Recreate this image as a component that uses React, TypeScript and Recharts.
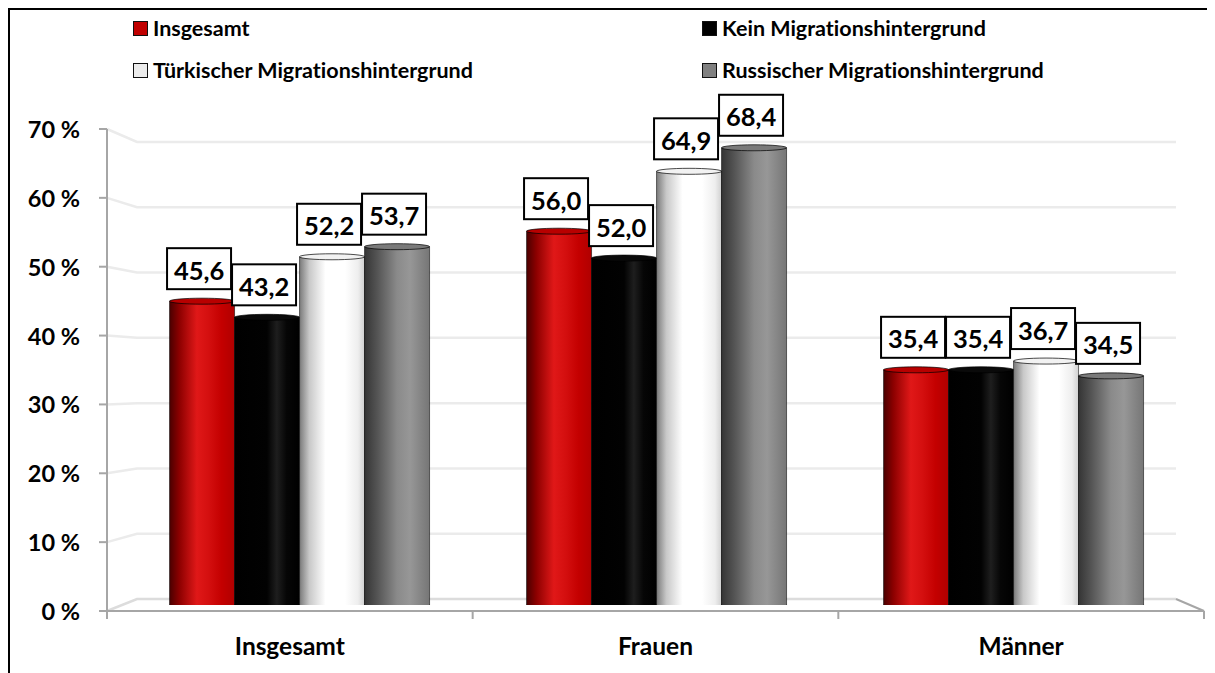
import React from "react";
import { Bar, BarChart, Customized, LabelList, Legend, XAxis, YAxis } from "recharts";

const categories = ["Insgesamt", "Frauen", "Männer"];
const insgesamt = [45.6, 56.0, 35.4];
const keinMigration = [43.2, 52.0, 35.4];
const tuerkisch = [52.2, 64.9, 36.7];
const russisch = [53.7, 68.4, 34.5];
const yTicks = [0, 10, 20, 30, 40, 50, 60, 70];

const data = categories.map((name, i) => ({
  name,
  insgesamt: insgesamt[i],
  kein: keinMigration[i],
  tuerkisch: tuerkisch[i],
  russisch: russisch[i],
}));

const FONT = "Lato, 'Open Sans', sans-serif";
const W = 1207;
const H = 665;

// plane where the bars stand (set by margins below)
const PLOT_L = 113;
const PLOT_R = 1184;
// front edge of the pseudo-3D floor / axes
const FX0 = 99;
const FX1 = 1196;
const FY0 = 603;
const FSTEP = 482 / 70;
// back wall
const BX0 = 129;
const BX1 = 1168;
const BY0 = 591;
const BSTEP = 457 / 70;

const fy = (v: number) => FY0 - v * FSTEP;
const by = (v: number) => BY0 - v * BSTEP;

const series = [
  {
    key: "insgesamt",
    name: "Insgesamt",
    swatch: "#c00000",
    top: "#b80000",
    stops: [["0", "#4a0000"], ["0.15", "#8c0000"], ["0.42", "#e01818"], ["0.6", "#d40f0f"], ["0.8", "#c40000"], ["1", "#b00000"]],
  },
  {
    key: "kein",
    name: "Kein Migrationshintergrund",
    swatch: "#000000",
    top: "#0a0a0a",
    stops: [["0", "#000"], ["0.5", "#020202"], ["0.65", "#1e1e1e"], ["0.8", "#060606"], ["1", "#000"]],
  },
  {
    key: "tuerkisch",
    name: "Türkischer Migrationshintergrund",
    swatch: "#ececec",
    top: "#f2f2f2",
    stops: [["0", "#7a7a7a"], ["0.15", "#c8c8c8"], ["0.4", "#ffffff"], ["0.7", "#ffffff"], ["0.9", "#eeeeee"], ["1", "#d0d0d0"]],
  },
  {
    key: "russisch",
    name: "Russischer Migrationshintergrund",
    swatch: "#808080",
    top: "#7a7a7a",
    stops: [["0", "#353535"], ["0.2", "#555555"], ["0.5", "#8a8a8a"], ["0.7", "#979797"], ["1", "#767676"]],
  },
];

const fmt = (v: number) => v.toFixed(1).replace(".", ",");

function Cylinder(props: any) {
  const { x, y, width, height, gradId, topColor } = props;
  if (!height || height <= 0) return null;
  const ry = 3;
  const rx = width / 2;
  const cx = x + rx;
  const b = y + height;
  const body = `M${x},${y + ry} L${x},${b} A${rx},${ry} 0 0 0 ${x + width},${b} L${x + width},${y + ry} Z`;
  return (
    <g>
      <path d={body} fill={`url(#${gradId})`} stroke="rgba(0,0,0,0.55)" strokeWidth={1} />
      <ellipse cx={cx} cy={y + ry} rx={rx} ry={ry} fill={topColor} stroke="rgba(0,0,0,0.7)" strokeWidth={1} />
    </g>
  );
}

function ValueBox(props: any) {
  const { x, y, width, value } = props;
  const w = 64;
  const h = 41;
  const cx = x + width / 2 - 3;
  const bottom = y - 9;
  return (
    <g>
      <rect x={cx - w / 2} y={bottom - h} width={w} height={h} fill="#fff" stroke="#000" strokeWidth={2} />
      <text
        x={cx}
        y={bottom - h / 2 + 1}
        textAnchor="middle"
        dominantBaseline="central"
        fontFamily={FONT}
        fontWeight={700}
        fontSize={25.5}
        fill="#000"
      >
        {fmt(value)}
      </text>
    </g>
  );
}

function Decor() {
  const grid = yTicks.filter((v) => v > 0);
  const axis = "#a6a6a6";
  return (
    <g>
      {grid.map((v) => (
        <polyline
          key={v}
          points={`${FX0},${fy(v)} ${BX0},${by(v)} ${BX1},${by(v)}`}
          fill="none"
          stroke="#ebebeb"
          strokeWidth={2.5}
        />
      ))}
      <polyline points={`${FX0},${fy(0)} ${BX0},${by(0)} ${BX1},${by(0)}`} fill="none" stroke="#dcdcdc" strokeWidth={2.5} />
      <polyline points={`${BX1},${by(0)} ${FX1},${fy(0)} ${FX0},${fy(0)}`} fill="none" stroke={axis} strokeWidth={2} />
      <line x1={FX0} y1={fy(70)} x2={FX0} y2={fy(0)} stroke={axis} strokeWidth={2} />
      {yTicks.map((v) => (
        <line key={`yt${v}`} x1={FX0 - 8} y1={fy(v)} x2={FX0} y2={fy(v)} stroke={axis} strokeWidth={2} />
      ))}
      {[0, 1, 2, 3].map((i) => {
        const xx = FX0 + (i * (FX1 - FX0)) / 3;
        return <line key={`xt${i}`} x1={xx} y1={fy(0)} x2={xx} y2={fy(0) + 8} stroke={axis} strokeWidth={2} />;
      })}
    </g>
  );
}

function YTick(props: any) {
  const v = props.payload.value;
  return (
    <text x={72} y={fy(v)} textAnchor="end" dominantBaseline="central" fontFamily={FONT} fontWeight={700} fontSize={23.5} fill="#000">
      {`${v} %`}
    </text>
  );
}

function XTick(props: any) {
  const { x, payload } = props;
  const fx = FX0 + ((x - PLOT_L) * (FX1 - FX0)) / (PLOT_R - PLOT_L);
  return (
    <text x={fx} y={637} textAnchor="middle" dominantBaseline="central" fontFamily={FONT} fontWeight={700} fontSize={24.5} fill="#000">
      {payload.value}
    </text>
  );
}

function LegendBox(props: any) {
  const items = props.payload || [];
  return (
    <div style={{ position: "relative", width: W, height: 90 }}>
      {items.map((it: any, i: number) => {
        const s = series.find((q) => q.key === it.dataKey) || series[0];
        const idx = series.indexOf(s);
        const left = idx % 2 === 0 ? 125 : 694;
        const top = idx < 2 ? 8 : 50;
        return (
          <div
            key={i}
            style={{ position: "absolute", left, top, height: 24, display: "flex", alignItems: "center", whiteSpace: "nowrap" }}
          >
            <span
              style={{
                display: "inline-block",
                width: 13,
                height: 13,
                background: s.swatch,
                border: "1.5px solid #111",
                marginRight: 5,
              }}
            />
            <span
              style={{
                fontFamily: FONT,
                fontWeight: 700,
                fontSize: 21.5,
                color: "#000",
                lineHeight: "24px",
                fontVariantLigatures: "none",
              }}
            >
              {it.value}
            </span>
          </div>
        );
      })}
    </div>
  );
}

export default function App() {
  return (
    <div style={{ position: "relative", width: W, height: H }}>
      <style>{"html,body{overflow:hidden}"}</style>
      <BarChart
        width={W}
        height={H}
        data={data}
        margin={{ top: 126, right: W - PLOT_R, left: 0, bottom: 0 }}
        barCategoryGap="13.6%"
        barGap={0}
      >
        <defs>
          {series.map((s) => (
            <linearGradient key={s.key} id={`g-${s.key}`} x1="0" y1="0" x2="1" y2="0">
              {s.stops.map(([o, c]) => (
                <stop key={o} offset={o} stopColor={c} />
              ))}
            </linearGradient>
          ))}
        </defs>
        <Customized component={<Decor />} />
        <XAxis dataKey="name" axisLine={false} tickLine={false} height={68} tick={<XTick />} interval={0} />
        <YAxis
          domain={[0, 70]}
          ticks={yTicks}
          width={PLOT_L}
          axisLine={false}
          tickLine={false}
          tick={<YTick />}
          allowDataOverflow
        />
        <Legend
          layout="vertical"
          align="center"
          verticalAlign="middle"
          content={<LegendBox />}
          wrapperStyle={{ position: "absolute", top: 0, left: 0, width: W, height: 90 }}
        />
        {series.map((s) => (
          <Bar
            key={s.key}
            dataKey={s.key}
            name={s.name}
            fill={s.swatch}
            isAnimationActive={false}
            shape={(p: any) => <Cylinder {...p} gradId={`g-${s.key}`} topColor={s.top} />}
          >
            <LabelList dataKey={s.key} content={<ValueBox />} />
          </Bar>
        ))}
      </BarChart>
      <div
        style={{
          position: "absolute",
          left: 0,
          top: 0,
          width: W,
          height: H,
          borderTop: "2px solid #000",
          borderLeft: "2px solid #000",
          boxSizing: "border-box",
          pointerEvents: "none",
        }}
      />
    </div>
  );
}
